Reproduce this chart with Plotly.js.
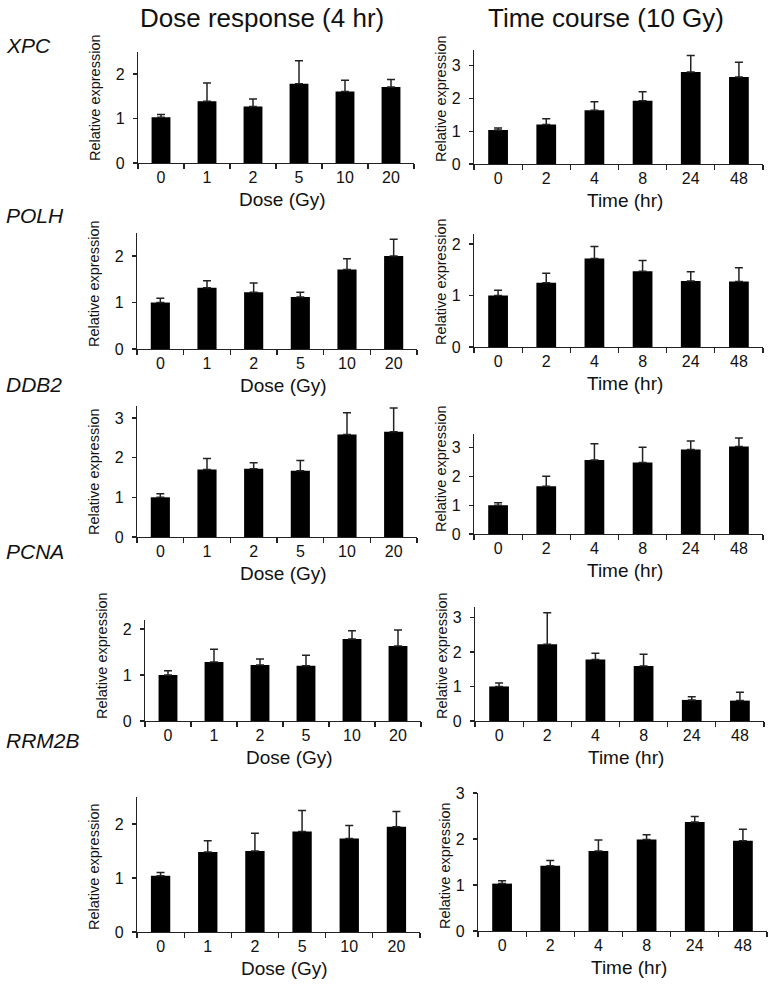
<!DOCTYPE html>
<html>
<head>
<meta charset="utf-8">
<script src="https://cdn.plot.ly/plotly-3.0.1.min.js"></script>
<style>html,body{margin:0;padding:0;background:#fff;}#chart{width:772px;height:984px;}</style>
</head>
<body>
<div id="chart"></div>
<script>
// ---- data ----
const doseCats = ['0','1','2','5','10','20'];
const timeCats = ['0','2','4','8','24','48'];
const genes = ['XPC','POLH','DDB2','PCNA','RRM2B'];
const columnTitles = ['Dose response (4 hr)','Time course (10 Gy)'];
const xTitles = ['Dose (Gy)','Time (hr)'];
const yTitle = 'Relative expression';

const xpcDose = [1.03,1.39,1.27,1.78,1.61,1.71];
const xpcDoseErr = [0.06,0.41,0.17,0.52,0.25,0.17];
const xpcTime = [1.04,1.21,1.64,1.93,2.81,2.66];
const xpcTimeErr = [0.06,0.17,0.26,0.28,0.51,0.45];

const polhDose = [1.00,1.32,1.22,1.12,1.71,2.00];
const polhDoseErr = [0.09,0.15,0.20,0.10,0.23,0.36];
const polhTime = [1.00,1.25,1.72,1.47,1.28,1.27];
const polhTimeErr = [0.10,0.18,0.23,0.21,0.18,0.27];

const ddb2Dose = [1.00,1.70,1.72,1.67,2.58,2.65];
const ddb2DoseErr = [0.09,0.28,0.15,0.26,0.55,0.60];
const ddb2Time = [1.00,1.66,2.58,2.49,2.94,3.05];
const ddb2TimeErr = [0.09,0.35,0.56,0.53,0.30,0.29];

const pcnaDose = [1.00,1.28,1.22,1.20,1.78,1.63];
const pcnaDoseErr = [0.09,0.28,0.13,0.23,0.18,0.35];
const pcnaTime = [1.00,2.22,1.78,1.59,0.61,0.59];
const pcnaTimeErr = [0.10,0.91,0.18,0.34,0.09,0.24];

const rrm2bDose = [1.04,1.48,1.50,1.86,1.73,1.95];
const rrm2bDoseErr = [0.06,0.21,0.33,0.39,0.24,0.28];
const rrm2bTime = [1.03,1.42,1.74,1.99,2.37,1.96];
const rrm2bTimeErr = [0.06,0.11,0.24,0.10,0.12,0.25];

// ---- layout ----
const W = 772, H = 984;
const FONT = 'Liberation Sans, Arial, sans-serif';
const series = [
  [xpcDose, xpcDoseErr, xpcTime, xpcTimeErr],
  [polhDose, polhDoseErr, polhTime, polhTimeErr],
  [ddb2Dose, ddb2DoseErr, ddb2Time, ddb2TimeErr],
  [pcnaDose, pcnaDoseErr, pcnaTime, pcnaTimeErr],
  [rrm2bDose, rrm2bDoseErr, rrm2bTime, rrm2bTimeErr]
];
// panel geometry in pixels: [x0, x1, yZero, yTop, yMax]
const geom = [
  [[138,414,163,51.8,2.5],[474,763,164,49.5,3.5]],
  [[137,417,349,232.8,2.5],[474,763,347,233.7,2.2]],
  [[137,417,537,406,3.3],[474,763,534,433.5,3.5]],
  [[145,421,721,619.8,2.2],[475,764,721,607,3.3]],
  [[137,420,932,797,2.5],[478,767,931,793,3.0]]
];
const geneY = [45, 216, 384, 551, 740];

const data = [];
const layout = {
  width: W, height: H,
  margin: {l:0, r:0, t:0, b:0},
  paper_bgcolor: '#fff', plot_bgcolor: 'rgba(0,0,0,0)',
  showlegend: false,
  bargap: 0.59,
  font: {family: FONT, color: '#111'},
  annotations: []
};

let k = 0;
for (let r = 0; r < genes.length; r++) {
  for (let c = 0; c < 2; c++) {
    k++;
    const g = geom[r][c];
    const xa = 'xaxis' + (k === 1 ? '' : k), ya = 'yaxis' + (k === 1 ? '' : k);
    const xr = 'x' + (k === 1 ? '' : k), yr = 'y' + (k === 1 ? '' : k);
    const vals = series[r][c*2], errs = series[r][c*2+1];
    const cats = c === 0 ? doseCats : timeCats;
    data.push({
      type: 'bar', x: cats, y: vals, xaxis: xr, yaxis: yr,
      marker: {color: '#000', line: {width: 0}},
      error_y: {type: 'data', symmetric: false, array: errs, arrayminus: errs.map(() => 0),
                color: '#222', thickness: 1.5, width: 4},
      hoverinfo: 'skip'
    });
    layout[xa] = {
      domain: [g[0]/W, g[1]/W], anchor: yr, type: 'category',
      range: [-0.5, 5.5], tickson: 'boundaries', ticks: 'outside', ticklen: 5,
      tickwidth: 1.2, tickcolor: '#222', showline: true, linecolor: '#222', linewidth: 1.2,
      showgrid: false, zeroline: false, tickfont: {size: 16, family: FONT, color: '#111'},
      fixedrange: true
    };
    layout[ya] = {
      domain: [(H - g[2])/H, (H - g[3])/H], anchor: xr,
      range: [0, g[4]], dtick: 1, tick0: 0, ticks: 'outside', ticklen: 4,
      tickwidth: 1.2, tickcolor: '#222', showline: true, linecolor: '#222', linewidth: 1.2,
      showgrid: false, zeroline: false, tickfont: {size: 16, family: FONT, color: '#111'},
      ticklabelstandoff: 5, fixedrange: true
    };
    // y title
    layout.annotations.push({
      xref: 'paper', yref: 'paper', x: (g[0] - (c === 0 ? 43 : 33))/W, y: (H - (g[2] - 65))/H,
      text: yTitle, textangle: -90, showarrow: false, xanchor: 'center', yanchor: 'middle',
      font: {size: 14.5, family: FONT, color: '#111'}
    });
    // x title
    layout.annotations.push({
      xref: 'paper', yref: 'paper', x: ((g[0] + g[1])/2 + 6)/W, y: (H - (g[2] + 36))/H,
      text: xTitles[c], showarrow: false, xanchor: 'center', yanchor: 'middle',
      font: {size: 19, family: FONT, color: '#111'}
    });
  }
  layout.annotations.push({
    xref: 'paper', yref: 'paper', x: 4/W, y: (H - geneY[r])/H,
    text: '<i>' + genes[r] + '</i>', showarrow: false, xanchor: 'left', yanchor: 'middle',
    font: {size: 21, family: FONT, color: '#111'}
  });
}
const colX = [262, 606];
columnTitles.forEach((t, i) => {
  layout.annotations.push({
    xref: 'paper', yref: 'paper', x: colX[i]/W, y: (H - 18)/H,
    text: t, showarrow: false, xanchor: 'center', yanchor: 'middle',
    font: {size: 26, family: 'Liberation Sans Narrow, Arial Narrow, ' + FONT, color: '#111'}
  });
});

Plotly.newPlot('chart', data, layout, {staticPlot: true, displayModeBar: false});
</script>
</body>
</html>
